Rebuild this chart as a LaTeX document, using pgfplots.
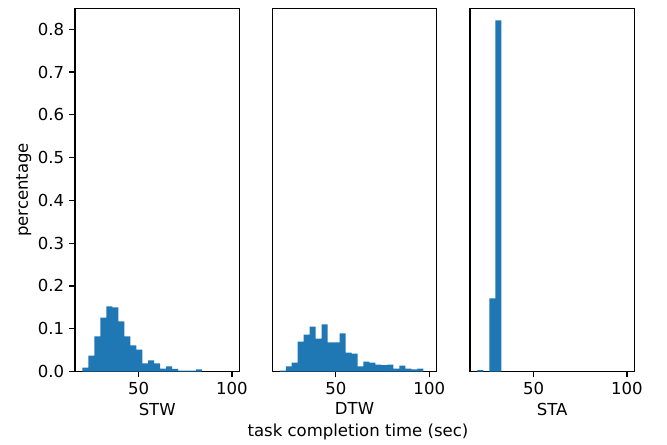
\documentclass[border=0pt]{standalone}
\usepackage{fontspec}
\setmainfont{DejaVu Sans}
\usepackage{pgfplots}
\pgfplotsset{compat=1.18}
\definecolor{mplblue}{HTML}{1F77B4}

% bin edges 20 + 3.2k, heights are fractions of runs
\pgfplotstableread{
x y
20.0 0.009
23.2 0.037
26.4 0.082
29.6 0.126
32.8 0.152
36.0 0.150
39.2 0.117
42.4 0.082
45.6 0.061
48.8 0.051
52.0 0.019
55.2 0.026
58.4 0.019
61.6 0.007
64.8 0.012
68.0 0.006
71.2 0.002
74.4 0.002
77.6 0.002
80.8 0.005
84.0 0
}\stw
\pgfplotstableread{
x y
20.0 0.002
23.2 0.012
26.4 0.021
29.6 0.070
32.8 0.086
36.0 0.105
39.2 0.077
42.4 0.110
45.6 0.068
48.8 0.068
52.0 0.089
55.2 0.044
58.4 0.042
61.6 0.012
64.8 0.023
68.0 0.021
71.2 0.016
74.4 0.015
77.6 0.016
80.8 0.007
84.0 0.014
87.2 0.007
90.4 0.005
93.6 0.007
96.8 0
}\dtw
\pgfplotstableread{
x y
20.0 0.003
23.2 0
26.4 0.171
29.6 0.821
32.8 0
}\sta

\pgfplotsset{
  panel/.style={
    scale only axis, width=118.4pt, height=261.5pt,
    anchor=south west,
    xmin=16, xmax=104, ymin=0, ymax=0.849,
    xtick={50,100},
    xtick pos=bottom, ytick pos=left,
    tick align=outside, major tick length=4.2pt,
    every tick/.style={black, line width=0.9pt},
    axis line style={line width=0.9pt},
    /pgf/number format/assume math mode=true,
    tick label style={font=\fontsize{11.9}{14}\selectfont},
    label style={font=\fontsize{11.9}{14}\selectfont},
    xlabel style={yshift=1pt},
  },
}

\begin{document}
\begin{tikzpicture}
\path (0pt,0pt) rectangle (480.24pt,318.96pt);

\begin{axis}[panel, at={(54pt,51.48pt)},
    ytick={0,0.1,...,0.8},
    yticklabel style={/pgf/number format/.cd, fixed, fixed zerofill, precision=1},
    ylabel style={yshift=-2pt},
    xlabel={STW}, ylabel={percentage}]
\addplot[ybar interval, fill=mplblue, draw=none] table[x=x, y=y] {\stw};
\end{axis}

\begin{axis}[panel, at={(196.06pt,51.48pt)}, ytick=\empty, xlabel={DTW}]
\addplot[ybar interval, fill=mplblue, draw=none] table[x=x, y=y] {\dtw};
\end{axis}

\begin{axis}[panel, at={(338.4pt,51.48pt)}, ytick=\empty, xlabel={STA}]
\addplot[ybar interval, fill=mplblue, draw=none] table[x=x, y=y] {\sta};
\end{axis}

\node[font=\fontsize{11.9}{14}\selectfont] at (257.76pt,7.92pt) {task completion time (sec)};
\end{tikzpicture}
\end{document}
